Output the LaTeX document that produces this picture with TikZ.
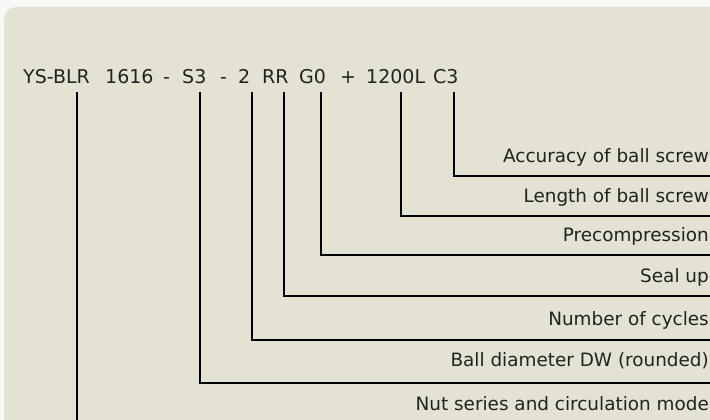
\documentclass[tikz,border=0pt]{standalone}
\usepackage{fontspec}
\setmainfont{DejaVu Sans}
\definecolor{bgpanel}{HTML}{E3E2D3}
\definecolor{bgout}{HTML}{F7F7F5}
\definecolor{txt}{HTML}{222222}
\begin{document}
\begin{tikzpicture}[x=1pt,y=-1pt,
  code/.style={anchor=base west,inner sep=0pt,text=txt,font=\fontsize{19}{22}\selectfont},
  lbl/.style={anchor=base east,inner sep=0pt,text=txt,font=\fontsize{18.4}{21}\selectfont},
  lead/.style={line width=2.8pt,black}]
\useasboundingbox (0,0) rectangle (710,420);
\fill[bgout] (0,0) rectangle (710,420);
\fill[bgpanel,rounded corners=12pt] (4,7) rectangle (740,450);
\begin{scope}
\clip (0,0) rectangle (710,420);
% code tokens
\node[code] (t1) at (23,84) {YS-BLR};
\node[code] (t2) at (105,84) {1616};
\node[code] (t3) at (163,84) {-};
\node[code] (t4) at (182,84) {S3};
\node[code] (t5) at (220,84) {-};
\node[code] (t6) at (238,84) {2};
\node[code] (t7) at (262,84) {RR};
\node[code] (t8) at (299,84) {G0};
\node[code] (t9) at (340,84) {+};
\node[code] (t10) at (366,84) {1200L};
\node[code] (t11) at (433,84) {C3};
% labels
\node[lbl] (l1) at (709,162.7) {Accuracy of ball screw};
\node[lbl] (l2) at (709,202.7) {Length of ball screw};
\node[lbl] (l3) at (709,241.5) {Precompression};
\node[lbl] (l4) at (709,282) {Seal up};
\node[lbl] (l5) at (709,325) {Number of cycles};
\node[lbl] (l6) at (709,366) {Ball diameter DW (rounded)};
\node[lbl] (l7) at (709,410.7) {Nut series and circulation mode};
% end coordinates
\coordinate (e1) at (730,176);
\coordinate (e2) at (730,216);
\coordinate (e3) at (730,255);
\coordinate (e4) at (730,296);
\coordinate (e5) at (730,340);
\coordinate (e6) at (730,383);
\coordinate (e7) at (77,440);
% leaders
\draw[lead] (454,92) |- (e1);
\draw[lead] (401,92) |- (e2);
\draw[lead] (321,92) |- (e3);
\draw[lead] (284,92) |- (e4);
\draw[lead] (252,92) |- (e5);
\draw[lead] (200,92) |- (e6);
\draw[lead] (77,92) -- (e7);
\end{scope}
\end{tikzpicture}
\end{document}
